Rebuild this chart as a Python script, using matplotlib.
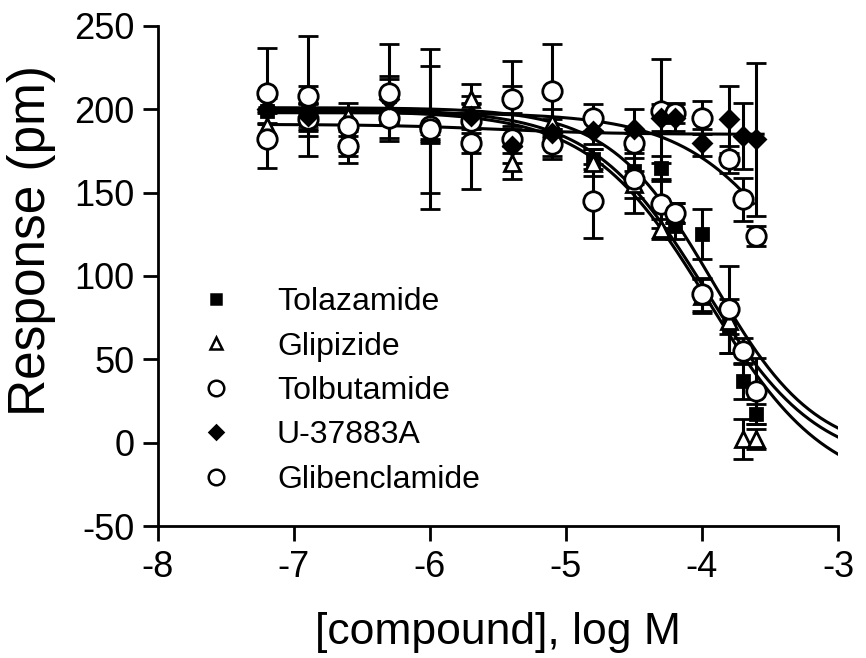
import numpy as np
import matplotlib.pyplot as plt
from matplotlib.lines import Line2D

plt.rcParams['font.family'] = ['Liberation Sans', 'DejaVu Sans']
plt.rcParams['axes.unicode_minus'] = False

# concentrations (log M)
x_conc = [-7.2, -6.9, -6.6, -6.3, -6.0, -5.7, -5.4, -5.1, -4.8, -4.5, -4.3, -4.2, -4.0, -3.8, -3.7, -3.6]

names = ['Tolazamide', 'Glipizide', 'Tolbutamide', 'U-37883A', 'Glibenclamide']

tolazamide = [199, 206, 181, 208, 190, 180, 206, 180, 170, 163, 165, 130, 125, 70, 37, 17]
tolazamide_err = [8, 8, 6, 10, 8, 6, 8, 8, 6, 8, 7, 8, 15, 16, 11, 6]

glipizide = [190, 195, 196, 200, 190, 206, 168, 192, 168, 155, 128, 138, 88, 73, 2, 2]
glipizide_err = [8, 8, 8, 8, 10, 9, 10, 8, 8, 8, 6, 6, 10, 8, 12, 6]

tolbutamide = [182, 194, 190, 195, 190, 193, 182, 179, 195, 180, 199, 198, 195, 170, 146, 124]
tolbutamide_err = [17, 10, 10, 12, 9, 10, 8, 9, 8, 6, 31, 6, 10, 8, 13, 6]

u37883a = [200, 196, 178, 206, 188, 196, 178, 186, 187, 188, 195, 195, 180, 194, 184, 182]
u37883a_err = [8, 8, 6, 14, 48, 8, 10, 8, 8, 12, 8, 8, 8, 20, 20, 46]

glibenclamide = [210, 208, 178, 210, 188, 180, 206, 211, 145, 158, 143, 138, 89, 80, 55, 31]
glibenclamide_err = [27, 36, 10, 29, 38, 28, 23, 28, 22, 20, 14, 6, 10, 26, 8, 20]

# fitted curves: top, bottom, logEC50, hill, x range
fit_top = [199, 200, 198, 191, 201]
fit_bottom = [-30, -15, 0, 185, -8]
fit_logec50 = [-3.95, -3.98, -3.2, -5.5, -3.92]
fit_hill = [1.0, 1.05, 1.0, 1.0, 1.15]
fit_xmax = [-3.0, -3.0, -3.62, -3.55, -3.0]

series = [tolazamide, glipizide, tolbutamide, u37883a, glibenclamide]
errors = [tolazamide_err, glipizide_err, tolbutamide_err, u37883a_err, glibenclamide_err]
markers = ['s', '^', 'o', 'D', 'o']
msizes = [9, 11, 14, 9, 14]
mfaces = ['black', 'white', 'white', 'black', 'white']

fig = plt.figure(figsize=(8.66, 6.58), dpi=100)
ax = fig.add_axes([0.1824, 0.2006, 0.7852, 0.7599])

for k in range(len(names)):
    ax.errorbar(x_conc, series[k], yerr=errors[k], fmt=markers[k], ms=msizes[k],
                mfc=mfaces[k], mec='black', mew=2.0, ecolor='black', elinewidth=2.2,
                capsize=7, capthick=2.2, zorder=3)

for k in range(len(names)):
    xs = np.linspace(-7.25, fit_xmax[k], 300)
    ys = fit_bottom[k] + (fit_top[k] - fit_bottom[k]) / (1 + 10 ** ((xs - fit_logec50[k]) * fit_hill[k]))
    ax.plot(xs, ys, color='black', lw=2.2, zorder=2)

ax.set_xlim(-8, -3)
ax.set_ylim(-50, 250)
ax.set_xticks([-8, -7, -6, -5, -4, -3])
ax.set_yticks([-50, 0, 50, 100, 150, 200, 250])
ax.spines['top'].set_visible(False)
ax.spines['right'].set_visible(False)
for s in ['left', 'bottom']:
    ax.spines[s].set_linewidth(2.0)
ax.tick_params(direction='out', length=11, width=2.0, labelsize=26, pad=6)
ax.set_xlabel('[compound], log M', fontsize=32, labelpad=20)
ax.set_ylabel('Response (pm)', fontsize=37)
ax.yaxis.set_label_coords(-0.15, 0.57)

handles = [Line2D([], [], ls='none', marker=markers[k], ms=msizes[k] * 0.8, mfc=mfaces[k],
                  mec='black', mew=1.8) for k in range(len(names))]
ax.legend(handles, names, loc='lower left', bbox_to_anchor=(0.02, 0.037), frameon=False,
          fontsize=23, labelspacing=0.45, handletextpad=0.9, borderaxespad=0)

fig.savefig('out.png', dpi=100)
